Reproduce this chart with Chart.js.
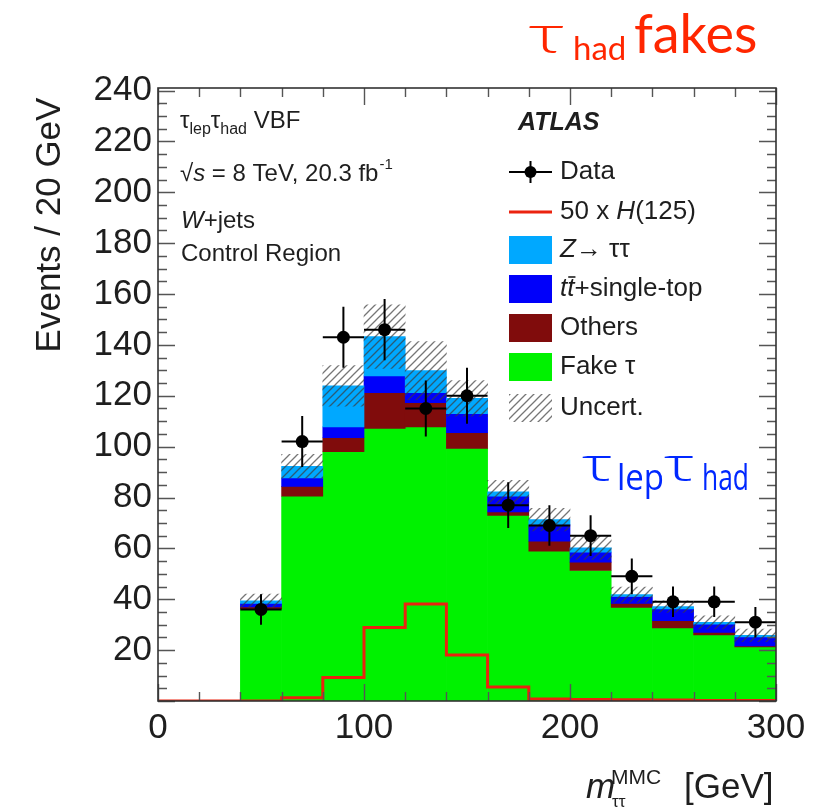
<!DOCTYPE html>
<html>
<head>
<meta charset="utf-8">
<script src="https://cdn.jsdelivr.net/npm/chart.js@4.4.1/dist/chart.umd.min.js"></script>
<style>
  html, body { margin: 0; padding: 0; background: #fff; }
</style>
</head>
<body>
<canvas id="myChart" width="824" height="810"></canvas>
<script>
// m_tautau MMC histogram, 20 GeV bins from 0 to 300
const binCenter  = [10, 30, 50, 70, 90, 110, 130, 150, 170, 190, 210, 230, 250, 270, 290];
const binHalf    = 10;
const fakeTau    = [0, 0, 36.3, 80.5, 98.0, 107.2, 107.8, 99.3, 73.0, 58.9, 51.3, 36.8, 28.7, 26.0, 21.3];
const others     = [0, 0, 0.7, 3.9, 5.5, 14.0, 9.5, 6.2, 1.3, 3.9, 3.3, 1.6, 2.9, 1.0, 0.4];
const topQuark   = [0, 0, 1.4, 3.3, 4.3, 6.6, 3.9, 7.5, 6.2, 6.6, 3.9, 2.7, 4.6, 3.2, 3.5];
const zTauTau    = [0, 0, 1.0, 4.6, 16.1, 15.5, 8.7, 6.0, 1.7, 1.9, 1.7, 0.7, 0.9, 0.7, 0.6];
const bkgUncert  = [0, 0, 2.6, 4.7, 8.0, 12.5, 11.4, 7.0, 4.6, 4.4, 4.5, 3.0, 2.3, 2.6, 2.5];
const higgsX50   = [0, 0, 0, 1.3, 9.2, 28.9, 38.1, 18.1, 5.5, 0.8, 0.6, 0.5, 0.4, 0.2, 0.2];
const dataEvents = [null, null, 36, 102, 143, 146, 115, 120, 77, 69, 65, 49, 39, 39, 31];
const dataError  = [null, null, 6, 10, 12, 12, 11, 11, 9, 8, 8, 7, 6, 6, 6];
const xTickValues = [0, 100, 200, 300];
const yTickValues = [20, 40, 60, 80, 100, 120, 140, 160, 180, 200, 220, 240];

const FONT = "'Liberation Sans', Arial, Helvetica, sans-serif";
const TXT = '#1e1e1e';
const C_Z = 'rgb(0,168,255)';
const C_TOP = 'rgb(0,0,250)';
const C_OTH = 'rgb(128,12,12)';
const C_FAKE = 'rgb(0,242,0)';
const C_HIGGS = 'rgb(235,35,15)';

// diagonal hatching for the background uncertainty band
function makeHatch() {
  var c = document.createElement('canvas');
  c.width = 8; c.height = 8;
  var g = c.getContext('2d');
  g.strokeStyle = 'rgba(60,60,60,0.7)';
  g.lineWidth = 1.3;
  g.beginPath();
  g.moveTo(0, 8); g.lineTo(8, 0);
  g.moveTo(-2, 2); g.lineTo(2, -2);
  g.moveTo(6, 10); g.lineTo(10, 6);
  g.stroke();
  return g.createPattern(c, 'repeat');
}
const hatch = makeHatch();

// stacked layers, bottom first
const layers = [fakeTau, others, topQuark, zTauTau];
function floatingLayer(k) {
  var out = [];
  for (var i = 0; i < binCenter.length; i++) {
    var lo = 0;
    for (var j = 0; j < k; j++) lo += layers[j][i];
    if (layers[k][i] > 0) out.push({x: binCenter[i], y: [lo, lo + layers[k][i]]});
  }
  return out;
}
function uncertBand() {
  var out = [];
  for (var i = 0; i < binCenter.length; i++) {
    var tot = fakeTau[i] + others[i] + topQuark[i] + zTauTau[i];
    if (tot > 0) out.push({x: binCenter[i], y: [tot - bkgUncert[i], tot + bkgUncert[i]]});
  }
  return out;
}
var higgsLine = binCenter.map(function (c, i) { return {x: c - binHalf, y: higgsX50[i]}; });
higgsLine.push({x: binCenter[binCenter.length - 1] + binHalf, y: higgsX50[higgsX50.length - 1]});
var dataPoints = [];
binCenter.forEach(function (c, i) { if (dataEvents[i] != null) dataPoints.push({x: c, y: dataEvents[i]}); });

function textRuns(ctx, x, y, parts) {
  for (var k = 0; k < parts.length; k++) {
    var p = parts[k];
    ctx.font = p[1];
    ctx.fillText(p[0], x, y + (p[2] || 0));
    x += ctx.measureText(p[0]).width;
  }
  return x;
}
// wide tau glyph for the big labels
function wideText(ctx, s, x, y, sx) {
  ctx.save();
  ctx.translate(x, y);
  ctx.scale(sx, 1);
  ctx.fillText(s, 0, 0);
  ctx.restore();
}

// frame, inward ticks on all four sides, data error bars
const framePlugin = {
  id: 'frame',
  afterDatasetsDraw: function (chart) {
    var ctx = chart.ctx, a = chart.chartArea;
    var xs = chart.scales.x, ys = chart.scales.y;
    ctx.save();
    // error bars
    ctx.strokeStyle = '#000';
    ctx.lineWidth = 2;
    binCenter.forEach(function (c, i) {
      if (dataEvents[i] == null) return;
      var px = xs.getPixelForValue(c), py = ys.getPixelForValue(dataEvents[i]);
      ctx.beginPath();
      ctx.moveTo(px, ys.getPixelForValue(dataEvents[i] - dataError[i]));
      ctx.lineTo(px, ys.getPixelForValue(dataEvents[i] + dataError[i]));
      ctx.moveTo(xs.getPixelForValue(c - binHalf), py);
      ctx.lineTo(xs.getPixelForValue(c + binHalf), py);
      ctx.stroke();
    });
    // ticks
    ctx.strokeStyle = '#555';
    ctx.lineWidth = 1.4;
    ctx.beginPath();
    for (var v = 0; v <= 240; v += 5) {
      var len = v % 20 === 0 ? 17 : 9;
      var y = Math.round(ys.getPixelForValue(v)) + 0.5;
      ctx.moveTo(a.left, y); ctx.lineTo(a.left + len, y);
      ctx.moveTo(a.right, y); ctx.lineTo(a.right - len, y);
    }
    for (var u = 0; u <= 300; u += 20) {
      var l2 = u % 100 === 0 ? 17 : 9;
      var x = Math.round(xs.getPixelForValue(u)) + 0.5;
      ctx.moveTo(x, a.bottom); ctx.lineTo(x, a.bottom - l2);
      ctx.moveTo(x, a.top); ctx.lineTo(x, a.top + l2);
    }
    ctx.stroke();
    ctx.strokeStyle = '#333';
    ctx.lineWidth = 1.6;
    ctx.strokeRect(a.left, a.top, a.right - a.left, a.bottom - a.top);
    ctx.restore();
  }
};

// labels, legend and annotations
const textPlugin = {
  id: 'texts',
  afterDraw: function (chart) {
    var ctx = chart.ctx;
    ctx.save();
    ctx.fillStyle = TXT;
    ctx.textBaseline = 'alphabetic';
    ctx.textAlign = 'left';

    // y axis title
    ctx.save();
    ctx.translate(50, 225);
    ctx.rotate(-Math.PI / 2);
    ctx.textAlign = 'center';
    ctx.textBaseline = 'middle';
    ctx.font = '35px ' + FONT;
    ctx.fillText('Events / 20 GeV', 0, 0);
    ctx.restore();

    // x axis title
    ctx.font = 'italic 35px ' + FONT;
    ctx.fillText('m', 586, 798);
    ctx.font = '21px ' + FONT;
    ctx.fillText('MMC', 611, 784);
    ctx.font = '17px ' + FONT;
    ctx.fillText('\u03c4\u03c4', 612, 807);
    ctx.font = '35px ' + FONT;
    ctx.fillText('[GeV]', 684, 798);

    // selection text
    textRuns(ctx, 180, 128, [
      ['\u03c4', '24px ' + FONT], ['lep', '16px ' + FONT, 6],
      ['\u03c4', '24px ' + FONT], ['had', '16px ' + FONT, 6],
      [' VBF', '24px ' + FONT]
    ]);
    var xr = textRuns(ctx, 180, 181, [
      ['\u221a', '24px ' + FONT], ['s', 'italic 24px ' + FONT],
      [' = 8 TeV, 20.3 fb', '24px ' + FONT]
    ]);
    ctx.font = '15px ' + FONT;
    ctx.fillText('-1', xr + 1, 169);
    textRuns(ctx, 181, 228, [['W', 'italic 24px ' + FONT], ['+jets', '24px ' + FONT]]);
    ctx.font = '24px ' + FONT;
    ctx.fillText('Control Region', 181, 261);
    ctx.font = 'italic bold 25px ' + FONT;
    ctx.fillText('ATLAS', 518, 130);

    // legend
    var lx = 509, lw = 43, tx = 560;
    var rows = [172, 212, 250, 289, 328, 367, 408];
    ctx.strokeStyle = '#000';
    ctx.lineWidth = 2;
    ctx.beginPath();
    ctx.moveTo(lx, rows[0]); ctx.lineTo(lx + lw, rows[0]);
    ctx.moveTo(lx + lw / 2, rows[0] - 11); ctx.lineTo(lx + lw / 2, rows[0] + 11);
    ctx.stroke();
    ctx.fillStyle = '#000';
    ctx.beginPath();
    ctx.arc(lx + lw / 2, rows[0], 6, 0, Math.PI * 2);
    ctx.fill();
    ctx.strokeStyle = C_HIGGS;
    ctx.lineWidth = 3;
    ctx.beginPath();
    ctx.moveTo(lx, rows[1]); ctx.lineTo(lx + lw, rows[1]);
    ctx.stroke();
    var boxes = [C_Z, C_TOP, C_OTH, C_FAKE, hatch];
    for (var b = 0; b < boxes.length; b++) {
      ctx.fillStyle = boxes[b];
      ctx.fillRect(lx, rows[b + 2] - 14, lw, 28);
    }

    ctx.fillStyle = TXT;
    ctx.textBaseline = 'middle';
    var LF = '26px ' + FONT, LI = 'italic 26px ' + FONT;
    textRuns(ctx, tx, rows[0], [['Data', LF]]);
    textRuns(ctx, tx, rows[1], [['50 x ', LF], ['H', LI], ['(125)', LF]]);
    textRuns(ctx, tx, rows[2], [['Z', LI], ['\u2192 \u03c4\u03c4', LF]]);
    var t1 = textRuns(ctx, tx, rows[3], [['t', LI]]);
    var t2 = textRuns(ctx, t1, rows[3], [['t', LI]]);
    textRuns(ctx, t2, rows[3], [['+single-top', LF]]);
    ctx.strokeStyle = TXT;
    ctx.lineWidth = 1.6;
    ctx.beginPath();
    ctx.moveTo(t1 + 1, rows[3] - 12); ctx.lineTo(t2 + 1, rows[3] - 12);
    ctx.stroke();
    textRuns(ctx, tx, rows[4], [['Others', LF]]);
    textRuns(ctx, tx, rows[5], [['Fake \u03c4', LF]]);
    textRuns(ctx, tx, rows[6], [['Uncert.', LF]]);

    // headline and channel tag
    ctx.textBaseline = 'alphabetic';
    ctx.fillStyle = 'rgb(255,38,0)';
    ctx.font = '300 56px Lato, sans-serif';
    wideText(ctx, '\u03c4', 528, 53, 1.45);
    ctx.font = '33px Lato, sans-serif';
    ctx.fillText('had', 573, 60);
    ctx.font = '54px Lato, sans-serif';
    ctx.fillText('fakes', 634, 53);
    ctx.fillStyle = 'rgb(0,40,255)';
    ctx.font = '300 46px "Open Sans", sans-serif';
    wideText(ctx, '\u03c4', 582, 481, 1.5);
    wideText(ctx, '\u03c4', 664, 481, 1.5);
    ctx.font = '36px "Open Sans", sans-serif';
    ctx.fillText('lep', 617, 490, 47);
    ctx.fillText('had', 702, 490, 47);
    ctx.restore();
  }
};

const ctx = document.getElementById('myChart').getContext('2d');
const chart = new Chart(ctx, {
  type: 'bar',
  data: {
    datasets: [
      { type: 'scatter', data: dataPoints, order: 0, pointRadius: 6.5,
        pointBackgroundColor: '#000', pointBorderWidth: 0 },
      { type: 'line', data: higgsLine, order: 1, stepped: true, fill: false,
        borderColor: C_HIGGS, borderWidth: 3, pointRadius: 0 },
      { data: uncertBand(), order: 2, backgroundColor: hatch },
      { data: floatingLayer(3), order: 3, backgroundColor: C_Z },
      { data: floatingLayer(2), order: 4, backgroundColor: C_TOP },
      { data: floatingLayer(1), order: 5, backgroundColor: C_OTH },
      { data: floatingLayer(0), order: 6, backgroundColor: C_FAKE }
    ]
  },
  options: {
    responsive: false,
    animation: false,
    events: [],
    datasets: {
      bar: { grouped: false, barPercentage: 1, categoryPercentage: 1, borderWidth: 0 }
    },
    layout: { padding: { left: 0, right: 48, top: 88, bottom: 0 } },
    plugins: { legend: { display: false }, tooltip: { enabled: false } },
    scales: {
      x: {
        type: 'linear', min: 0, max: 300, offset: false,
        grid: { display: false, drawTicks: false, offset: false },
        border: { display: false },
        afterBuildTicks: function (axis) { axis.ticks = xTickValues.map(function (v) { return {value: v}; }); },
        afterFit: function (axis) { axis.height = 109; },
        ticks: { padding: 6, maxRotation: 0, color: TXT, font: { family: FONT, size: 35 } }
      },
      y: {
        type: 'linear', min: 0, max: 241,
        grid: { display: false, drawTicks: false },
        border: { display: false },
        afterBuildTicks: function (axis) { axis.ticks = yTickValues.map(function (v) { return {value: v}; }); },
        afterFit: function (axis) { axis.width = 158; },
        ticks: { padding: 6, color: TXT, font: { family: FONT, size: 35 } }
      }
    }
  },
  plugins: [framePlugin, textPlugin]
});
</script>
</body>
</html>
